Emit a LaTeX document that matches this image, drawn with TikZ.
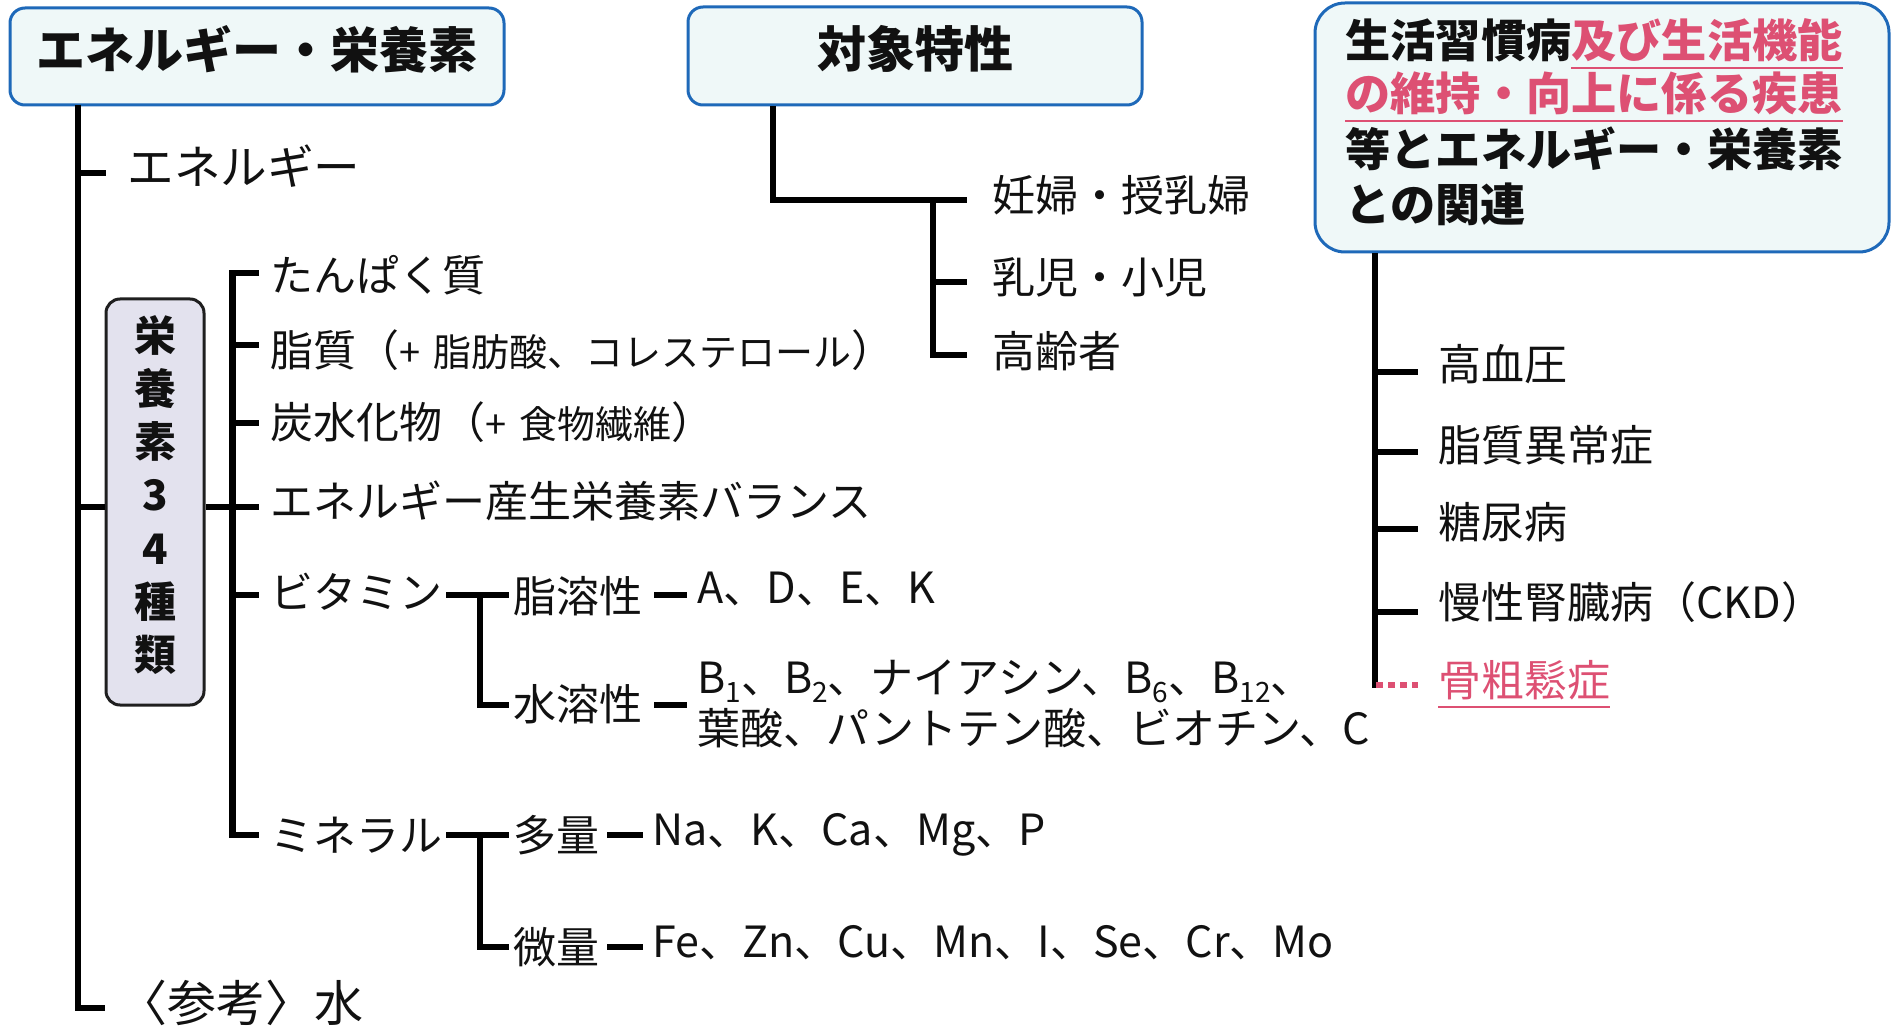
\documentclass[tikz,border=0pt]{standalone}
\usepackage{fontspec}
\setmainfont{Noto Sans CJK JP}
\definecolor{boxfill}{RGB}{239,248,248}
\definecolor{boxblue}{RGB}{30,105,185}
\definecolor{lavfill}{RGB}{227,226,238}
\definecolor{pinkr}{RGB}{221,80,115}
\definecolor{ink}{RGB}{17,17,17}
\newcommand\fsT{\fontsize{24.5pt}{29pt}\selectfont\bfseries}
\newcommand\fsH{\fontsize{22.6pt}{27.5pt}\selectfont\bfseries}
\newcommand\fsL{\fontsize{23.3pt}{28pt}\selectfont}
\newcommand\fsN{\fontsize{21.5pt}{26pt}\selectfont}
\newcommand\fsS{\fontsize{19pt}{22pt}\selectfont}
\newcommand\sbs[1]{\raisebox{-0.22em}{\fontsize{14pt}{14pt}\selectfont #1}}
\newcommand\pul[1]{\setbox0\hbox{#1}\rlap{\raisebox{-0.27em}[0pt][0pt]{\rule{\wd0}{1.2pt}}}\box0}
\begin{document}
\begin{tikzpicture}[x=0.5pt,y=-0.5pt,
  lbl/.style={anchor=west,inner sep=0pt,font=\fsN,text=ink},
  blbl/.style={anchor=base west,inner sep=0pt,font=\fsN,text=ink},
  hlbl/.style={anchor=west,inner sep=0pt,font=\fsH,text=ink},
  title/.style={inner sep=0pt,font=\fsT,text=ink},
  link/.style={line width=3.3pt,draw=black},
  tbox/.style={draw=boxblue,fill=boxfill,line width=1.5pt,rounded corners=7.5pt,inner sep=0pt},
]
\useasboundingbox (0,0) rectangle (1894,1026);

% ---------- header boxes ----------
\node[tbox,minimum width=247pt,minimum height=48.5pt] (box1) at (257,56.5) {};
\node[title] (box1t) at (257,49) {エネルギー・栄養素};
\node[tbox,minimum width=227pt,minimum height=49pt] (box2) at (915,56) {};
\node[title] (box2t) at (915,49) {対象特性};
\node[tbox,rounded corners=15pt,minimum width=287pt,minimum height=124.5pt] (box3) at (1602,127.5) {};
\node[hlbl] (h1) at (1345,40) {生活習慣病\textcolor{pinkr}{\pul{及び生活機能}}};
\node[hlbl] (h2) at (1345,93) {\textcolor{pinkr}{\pul{の維持・向上に係る疾患}}};
\node[hlbl] (h3) at (1345,149) {等とエネルギー・栄養素};
\node[hlbl] (h4) at (1345,204) {との関連};

% ---------- left tree ----------
\coordinate (a0) at (78,105);
\coordinate (a1) at (78,1008);
\coordinate (a2) at (105,1008);
\draw[link] (a0) -- (a1) -- (a2);
\coordinate (e0) at (78,173);
\coordinate (e1) at (106,173);
\draw[link] (e0) -- (e1);
\node[lbl,font=\fsL] (ene) at (127,166) {エネルギー};
\node[lbl,font=\fontsize{24.5pt}{29pt}\selectfont] (ref) at (118,1003) {〈参考〉水};

\node[draw=black!88,fill=lavfill,line width=1.5pt,rounded corners=7pt,minimum width=49pt,minimum height=203pt,inner sep=0pt] (nbox) at (155,502) {};
\node[inner sep=0pt,align=center,font=\fontsize{21pt}{26.6pt}\selectfont\bfseries,text=ink] (nboxt) at (155,495) {栄\\養\\素\\3\\4\\種\\類};
\coordinate (n0) at (78,507);
\draw[link] (n0) -- (nbox.west |- n0);
\coordinate (n1) at (259,507);
\draw[link] (nbox.east |- n1) -- (n1);

% second level
\coordinate (b0) at (259,273);
\coordinate (b1) at (232.5,273);
\coordinate (b2) at (232.5,835);
\coordinate (b3) at (259,835);
\draw[link] (b0) -- (b1) -- (b2) -- (b3);
\foreach \yy in {345,423,595}{\draw[link] (232.5,\yy) -- (259,\yy);}
\node[lbl] (pro) at (270,275) {たんぱく質};
\node[lbl] (fat) at (270,350) {脂質（{\fsS +\kern0.35em 脂肪酸、コレステロール}）};
\node[lbl] (cho) at (270,422) {炭水化物（{\fsS +\kern0.35em 食物繊維}）};
\node[lbl] (bal) at (270,501) {エネルギー産生栄養素バランス};
\node[lbl] (vit) at (270,592) {ビタミン};
\node[lbl] (min) at (270,835) {ミネラル};

% vitamins
\coordinate (v0) at (446,595);
\coordinate (v1) at (509,595);
\coordinate (v2) at (480,595);
\coordinate (v3) at (480,705);
\coordinate (v4) at (509,705);
\draw[link] (v0) -- (v1);
\draw[link] (v2) -- (v3) -- (v4);
\node[lbl] (fs) at (513,596) {脂溶性};
\node[lbl] (ws) at (513,704) {水溶性};
\draw[link] (654,595) -- (687,595);
\draw[link] (654,705) -- (687,705);
\node[blbl] (fsv) at (697,603) {A、D、E、K};
\node[blbl] (wsv1) at (697,693) {B\sbs{1}、B\sbs{2}、ナイアシン、B\sbs{6}、B\sbs{12}、};
\node[blbl] (wsv2) at (697,744) {葉酸、パントテン酸、ビオチン、C};

% minerals
\coordinate (m0) at (446,835);
\coordinate (m1) at (509,835);
\coordinate (m2) at (480,835);
\coordinate (m3) at (480,947);
\coordinate (m4) at (509,947);
\draw[link] (m0) -- (m1);
\draw[link] (m2) -- (m3) -- (m4);
\node[lbl] (maj) at (513,835) {多量};
\node[lbl] (tra) at (513,947) {微量};
\draw[link] (607,835) -- (643,835);
\draw[link] (607,947) -- (643,947);
\node[blbl] (majv) at (652,845) {Na、K、Ca、Mg、P};
\node[blbl] (trav) at (652,957) {Fe、Zn、Cu、Mn、I、Se、Cr、Mo};

% ---------- middle tree ----------
\coordinate (c0) at (773,200);
\coordinate (c1) at (967,200);
\draw[link] (box2.south -| c0) -- (c0) -- (c1);
\coordinate (c2) at (933,200);
\coordinate (c3) at (933,355);
\coordinate (c4) at (967,355);
\draw[link] (c2) -- (c3) -- (c4);
\draw[link] (933,282) -- (967,282);
\node[lbl] (preg) at (992,195) {妊婦・授乳婦};
\node[lbl] (inf) at (992,277) {乳児・小児};
\node[lbl] (eld) at (992,351) {高齢者};

% ---------- right tree ----------
\coordinate (r0) at (1375,688);
\draw[link] (box3.south -| r0) -- (r0);
\foreach \yy in {372,452,529,612}{\draw[link] (1375,\yy) -- (1418,\yy);}
\draw[pinkr,line width=3.3pt,dash pattern=on 3.5pt off 2.5pt] (1376,685) -- (1418,685);
\node[lbl] (hbp) at (1438,364) {高血圧};
\node[lbl] (dys) at (1438,445) {脂質異常症};
\node[lbl] (dm) at (1438,522) {糖尿病};
\node[lbl] (ckd) at (1438,602) {慢性腎臓病（CKD）};
\node[lbl,text=pinkr] (ost) at (1438,680) {\pul{骨粗鬆症}};
\end{tikzpicture}
\end{document}
